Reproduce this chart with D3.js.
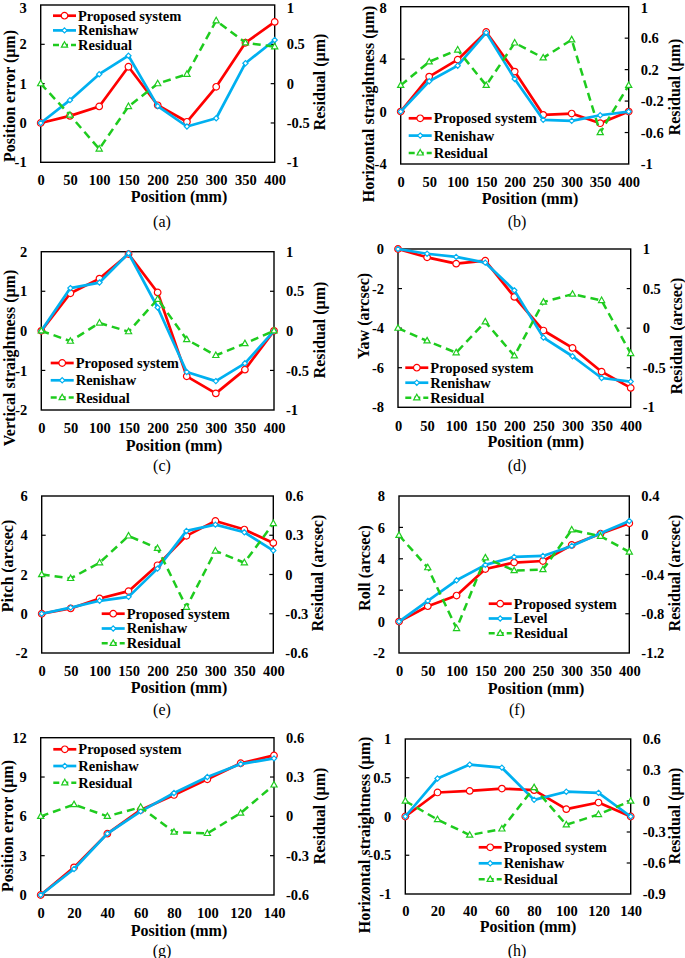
<!DOCTYPE html>
<html>
<head>
<meta charset="utf-8">
<script src="https://cdn.jsdelivr.net/npm/d3@7"></script>
<style>
  html, body { margin: 0; padding: 0; background: #fff; }
  svg { display: block; }
</style>
</head>
<body>
<svg id="chart" width="685" height="958"></svg>
<script>
// ---------------- DATA ----------------
const pos400 = [0, 50, 100, 150, 200, 250, 300, 350, 400];
const pos140 = [0, 20, 40, 60, 80, 100, 120, 140];

// (a) position error
const propA = [0, 0.18, 0.42, 1.43, 0.45, 0.03, 0.92, 2.04, 2.57];
const renA  = [0, 0.58, 1.24, 1.71, 0.43, -0.09, 0.12, 1.52, 2.11];
const resA  = [0, -0.40, -0.83, -0.29, 0.0, 0.12, 0.80, 0.52, 0.47];
// (b) horizontal straightness
const propB = [0, 2.67, 3.96, 6.07, 3.05, -0.25, -0.15, -0.89, 0];
const renB  = [0, 2.31, 3.50, 6.02, 2.49, -0.63, -0.71, -0.28, 0];
const resB  = [0, 0.30, 0.45, 0.0, 0.54, 0.35, 0.58, -0.60, 0];
// (c) vertical straightness
const propC = [0, 0.95, 1.32, 1.94, 0.97, -1.15, -1.58, -0.98, 0];
const renC  = [0, 1.08, 1.22, 1.96, 0.59, -1.04, -1.27, -0.82, 0];
const resC  = [0, -0.13, 0.10, -0.01, 0.40, -0.11, -0.31, -0.16, 0];
// (d) yaw
const propD = [0, -0.42, -0.74, -0.59, -2.42, -4.12, -5.00, -6.20, -7.02];
const renD  = [0, -0.24, -0.40, -0.69, -2.09, -4.48, -5.42, -6.52, -6.70];
const resD  = [0, -0.16, -0.31, 0.08, -0.35, 0.33, 0.43, 0.35, -0.32];
// (e) pitch
const propE = [0, 0.27, 0.78, 1.15, 2.47, 3.97, 4.73, 4.29, 3.61];
const renE  = [0, 0.31, 0.66, 0.86, 2.30, 4.22, 4.54, 4.15, 3.22];
const resE  = [0, -0.03, 0.09, 0.295, 0.20, -0.25, 0.18, 0.09, 0.39];
// (f) roll
const propF = [0, 0.98, 1.66, 3.35, 3.76, 3.86, 4.88, 5.60, 6.26];
const levF  = [0, 1.32, 2.63, 3.61, 4.12, 4.18, 4.82, 5.63, 6.41];
const resF  = [0, -0.33, -0.95, -0.23, -0.36, -0.35, 0.055, -0.01, -0.17];
// (g) position error (short axis)
const propG = [0, 2.11, 4.68, 6.49, 7.63, 8.83, 10.05, 10.65];
const renG  = [0, 1.98, 4.68, 6.38, 7.78, 9.00, 9.99, 10.42];
const resG  = [0, 0.09, 0.0, 0.07, -0.12, -0.13, 0.025, 0.24];
// (h) horizontal straightness (short axis)
const propH = [0, 0.31, 0.33, 0.36, 0.34, 0.095, 0.18, 0];
const renH  = [0, 0.49, 0.67, 0.63, 0.215, 0.32, 0.305, 0];
const resH  = [0, -0.18, -0.33, -0.27, 0.13, -0.23, -0.13, 0];

// axis tick labels
const ticksLA = [-1, 0, 1, 2, 3],        ticksRA = [-1, -0.5, 0, 0.5, 1];
const ticksLB = [-4, 0, 4, 8],           ticksRB = [-1, -0.6, -0.2, 0.2, 0.6, 1];
const ticksLC = [-2, -1, 0, 1, 2],       ticksRC = [-1, -0.5, 0, 0.5, 1];
const ticksLD = [-8, -6, -4, -2, 0],     ticksRD = [-1, -0.5, 0, 0.5, 1];
const ticksLE = [-2, 0, 2, 4, 6],        ticksRE = [-0.6, -0.3, 0, 0.3, 0.6];
const ticksLF = [-2, 0, 2, 4, 6, 8],     ticksRF = [-1.2, -0.8, -0.4, 0, 0.4];
const ticksLG = [0, 3, 6, 9, 12],        ticksRG = [-0.6, -0.3, 0, 0.3, 0.6];
const ticksLH = [-1, -0.5, 0, 0.5, 1],   ticksRH = [-0.9, -0.6, -0.3, 0, 0.3, 0.6];

const names1 = ["Proposed system", "Renishaw", "Residual"];
const names2 = ["Proposed system", "Level", "Residual"];

// ---------------- LAYOUT ----------------
const panels = [
  { id: "(a)", xs: pos400, s: [propA, renA, resA], names: names1, tL: ticksLA, tR: ticksRA,
    yLabel: "Position error (μm)", rLabel: "Residual (μm)",
    box: [40.7, 274.7, 5, 162.3], tickY: 180, xTitle: [179, 197], cap: [162, 222],
    lT: [10, 96], rT: [320, 82], leg: [53, 15.7, 14.7] },
  { id: "(b)", xs: pos400, s: [propB, renB, resB], names: names1, tL: ticksLB, tR: ticksRB,
    yLabel: "Horizontal straightness (μm)", rLabel: "Residual (μm)",
    box: [400.7, 628.7, 6.7, 164], tickY: 181.7, xTitle: [530, 199], cap: [517, 222],
    lT: [368.7, 104], rT: [675, 87], leg: [408.7, 118.3, 17.3] },
  { id: "(c)", xs: pos400, s: [propC, renC, resC], names: names1, tL: ticksLC, tR: ticksRC,
    yLabel: "Vertical straightness (μm)", rLabel: "Residual (μm)",
    box: [41.3, 274, 251.7, 410], tickY: 427.7, xTitle: [174, 445.7], cap: [162, 466],
    lT: [10, 358], rT: [320, 330], leg: [50.7, 363, 17.3] },
  { id: "(d)", xs: pos400, s: [propD, renD, resD], names: names1, tL: ticksLD, tR: ticksRD,
    yLabel: "Yaw (arcsec)", rLabel: "Residual (arcsec)",
    box: [398, 630.7, 249, 407.3], tickY: 425.7, xTitle: [535.8, 442], cap: [517, 466],
    lT: [363.7, 316], rT: [677, 336], leg: [405.3, 367.7, 15] },
  { id: "(e)", xs: pos400, s: [propE, renE, resE], names: names1, tL: ticksLE, tR: ticksRE,
    yLabel: "Pitch (arcsec)", rLabel: "Residual (arcsec)",
    box: [41.7, 273.3, 496, 653], tickY: 671, xTitle: [179, 688], cap: [162, 710],
    lT: [8.3, 566], rT: [318, 573], leg: [101.7, 613.7, 14.8] },
  { id: "(f)", xs: pos400, s: [propF, levF, resF], names: names2, tL: ticksLF, tR: ticksRF,
    yLabel: "Roll (arcsec)", rLabel: "Residual (arcsec)",
    box: [399, 629.3, 496, 653], tickY: 671, xTitle: [536, 689], cap: [517, 710],
    lT: [365.3, 568], rT: [675, 573], leg: [488.7, 603.7, 14.8] },
  { id: "(g)", xs: pos140, s: [propG, renG, resG], names: names1, tL: ticksLG, tR: ticksRG,
    yLabel: "Position error (μm)", rLabel: "Residual (μm)",
    box: [40.7, 274, 737.7, 895], tickY: 912.7, xTitle: [179, 931], cap: [162, 951],
    lT: [8.3, 826], rT: [320, 816], leg: [53.3, 749.3, 16.7] },
  { id: "(h)", xs: pos140, s: [propH, renH, resH], names: names1, tL: ticksLH, tR: ticksRH,
    yLabel: "Horizontal straightness (μm)", rLabel: "Residual (μm)",
    box: [405.3, 630.7, 739, 894], tickY: 911, xTitle: [528, 927], cap: [517, 951],
    lT: [365.3, 835], rT: [675, 816], leg: [478.7, 847.3, 16] }
];

const FONT = "Liberation Serif";
const styles = [
  { color: "#FF0000", width: 2.7, dash: null, marker: "circle" },
  { color: "#00B0F0", width: 2.7, dash: null, marker: "diamond" },
  { color: "#1ECB1E", width: 2.5, dash: "8,5", marker: "triangle" }
];

const fmt = v => String(Math.round(v * 100) / 100);
const svg = d3.select("#chart");

function markerPath(type) {
  if (type === "circle") return d3.symbol().type(d3.symbolCircle).size(34)();
  if (type === "diamond") return "M0,-2.6L2.6,0L0,2.6L-2.6,0Z";
  return "M0,-3.4L3.1,2.1L-3.1,2.1Z";
}

function styleTicks(sel, scale) {
  sel.select(".domain").remove();
  sel.attr("font-family", FONT);
  sel.selectAll("text").attr("font-size", 14.5).attr("font-weight", "bold")
    .attr("font-family", FONT).attr("fill", "#000");
  if (scale) {
    // keep the topmost labels fully inside the picture
    sel.selectAll(".tick").each(function (d) {
      const yy = scale(d);
      if (yy < 7.5) d3.select(this).select("text").attr("y", 7.5 - yy);
    });
  }
}

function drawPanel(p) {
  const [x0, x1, y0, y1] = p.box;
  const g = svg.append("g").attr("font-family", FONT);
  const x = d3.scaleLinear().domain(d3.extent(p.xs)).range([x0, x1]);
  const yL = d3.scaleLinear().domain(d3.extent(p.tL)).range([y1, y0]);
  const yR = d3.scaleLinear().domain(d3.extent(p.tR)).range([y1, y0]);
  const inner = arr => arr.slice(1, -1);

  // left axis
  g.append("g").attr("transform", `translate(${x0},0)`)
    .call(d3.axisLeft(yL).tickValues(p.tL).tickFormat(fmt).tickSize(0).tickPadding(14))
    .call(s => styleTicks(s, yL));
  g.append("g").selectAll("line").data(inner(p.tL)).join("line")
    .attr("x1", x0).attr("x2", x0 + 4).attr("y1", d => yL(d)).attr("y2", d => yL(d))
    .attr("stroke", "#000").attr("stroke-width", 1.2);

  // right axis
  g.append("g").attr("transform", `translate(${x1},0)`)
    .call(d3.axisRight(yR).tickValues(p.tR).tickFormat(fmt).tickSize(0).tickPadding(12))
    .call(s => styleTicks(s, yR));
  g.append("g").selectAll("line").data(inner(p.tR)).join("line")
    .attr("x1", x1).attr("x2", x1 - 4).attr("y1", d => yR(d)).attr("y2", d => yR(d))
    .attr("stroke", "#000").attr("stroke-width", 1.2);

  // bottom axis labels
  const axB = g.append("g").attr("transform", `translate(0,${p.tickY})`)
    .call(d3.axisBottom(x).tickValues(p.xs).tickFormat(d3.format("d")).tickSize(0).tickPadding(0))
    .call(s => styleTicks(s, null));
  axB.selectAll("text").attr("y", 0).attr("dy", "0.35em");

  // frame
  g.append("rect").attr("x", x0).attr("y", y0).attr("width", x1 - x0).attr("height", y1 - y0)
    .attr("fill", "none").attr("stroke", "#000").attr("stroke-width", 1.4);

  // series
  p.s.forEach((vals, i) => {
    const st = styles[i];
    const yS = i === 2 ? yR : yL;
    const pts = p.xs.map((xv, k) => [x(xv), yS(vals[k])]);
    g.append("path").attr("d", d3.line()(pts)).attr("fill", "none")
      .attr("stroke", st.color).attr("stroke-width", st.width)
      .attr("stroke-dasharray", st.dash).attr("stroke-linejoin", "round");
    g.append("g").selectAll("path").data(pts).join("path")
      .attr("d", markerPath(st.marker)).attr("transform", d => `translate(${d[0]},${d[1]})`)
      .attr("fill", "#fff").attr("stroke", st.color).attr("stroke-width", 1.2);
  });

  // legend
  const [lx, ly, ldy] = p.leg;
  p.names.forEach((nm, i) => {
    const st = styles[i];
    const yy = ly + i * ldy;
    g.append("line").attr("x1", lx).attr("x2", lx + 23).attr("y1", yy).attr("y2", yy)
      .attr("stroke", st.color).attr("stroke-width", st.width)
      .attr("stroke-dasharray", i === 2 ? "6,3" : null);
    g.append("path").attr("d", markerPath(st.marker))
      .attr("transform", `translate(${lx + 11.5},${yy})`)
      .attr("fill", "#fff").attr("stroke", st.color).attr("stroke-width", 1.2);
    g.append("text").attr("x", lx + 25).attr("y", yy).attr("dy", "0.34em")
      .attr("font-family", FONT).attr("font-size", 14.5).attr("font-weight", "bold").text(nm);
  });

  // titles
  g.append("text").attr("x", p.xTitle[0]).attr("y", p.xTitle[1]).attr("dy", "0.34em")
    .attr("text-anchor", "middle").attr("font-family", FONT).attr("font-size", 16)
    .attr("font-weight", "bold").text("Position (mm)");
  g.append("text").attr("transform", `translate(${p.lT[0]},${p.lT[1]}) rotate(-90)`)
    .attr("dy", "0.3em").attr("text-anchor", "middle").attr("font-family", FONT)
    .attr("font-size", 16).attr("font-weight", "bold").text(p.yLabel);
  g.append("text").attr("transform", `translate(${p.rT[0]},${p.rT[1]}) rotate(-90)`)
    .attr("dy", "0.3em").attr("text-anchor", "middle").attr("font-family", FONT)
    .attr("font-size", 16).attr("font-weight", "bold").text(p.rLabel);
  g.append("text").attr("x", p.cap[0]).attr("y", p.cap[1]).attr("dy", "0.34em")
    .attr("text-anchor", "middle").attr("font-family", FONT).attr("font-size", 16).text(p.id);
}

panels.forEach(drawPanel);
</script>
</body>
</html>
